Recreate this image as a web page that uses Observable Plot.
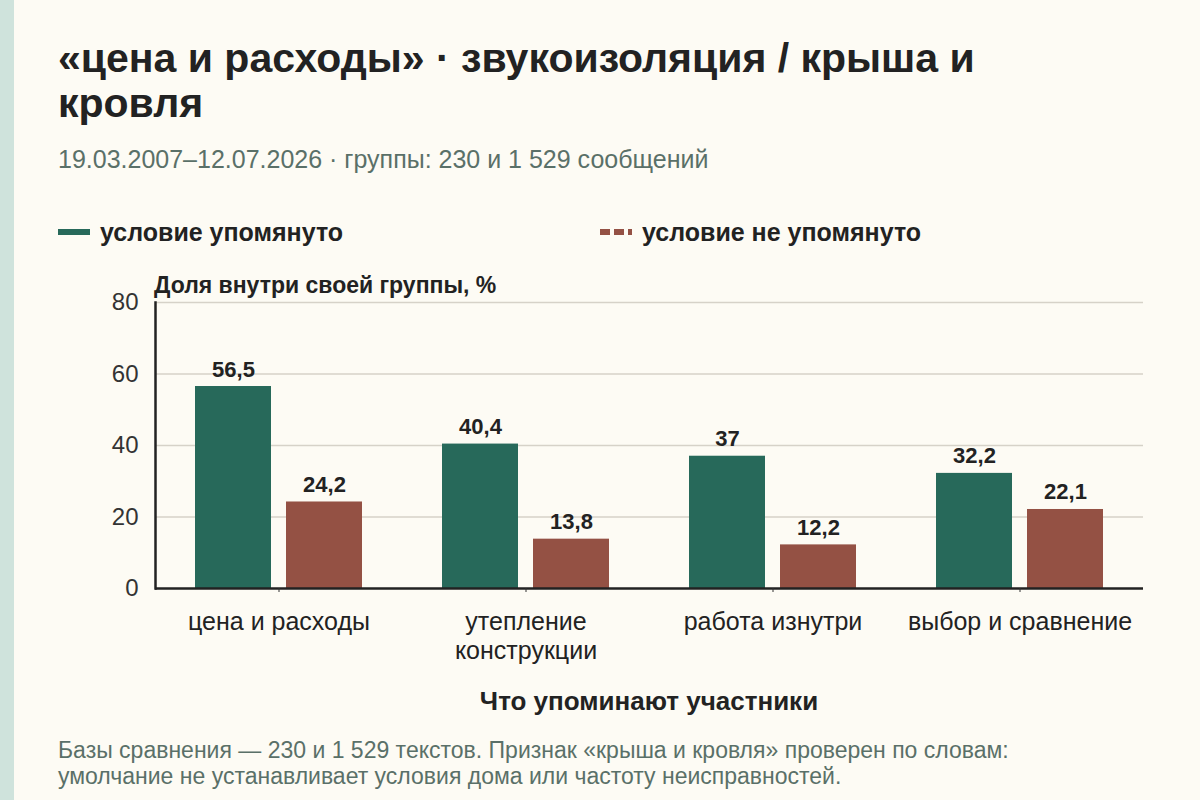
<!DOCTYPE html>
<html lang="ru">
<head>
<meta charset="utf-8">
<script src="https://cdn.jsdelivr.net/npm/d3@7"></script>
<script src="https://cdn.jsdelivr.net/npm/@observablehq/plot@0.6"></script>
<style>
  html, body { margin: 0; padding: 0; }
  body {
    width: 1200px; height: 800px; position: relative; overflow: hidden;
    background: #fdfbf4; font-family: "Liberation Sans", Arial, sans-serif; color: #222;
  }
  .strip { position: absolute; left: 0; top: 0; width: 14px; height: 800px; background: #cfe3dc; }
  .abs { position: absolute; white-space: nowrap; }
  #title { left: 58px; top: 36px; width: 1000px; white-space: normal; font-size: 41px; line-height: 45px; font-weight: bold; color: #222; }
  #subtitle { left: 58px; top: 144px; font-size: 25px; line-height: 30px; color: #5a7068; }
  .leg { top: 217px; display: flex; align-items: center; font-size: 25px; line-height: 30px; font-weight: bold; color: #222; }
  .leg svg { margin-right: 10px; }
  #ylabel { left: 154px; top: 272px; font-size: 23px; line-height: 26px; font-weight: bold; color: #222; }
  #chart { left: 0; top: 280px; }
  #xtitle { left: 154px; width: 990px; top: 686px; text-align: center; font-size: 26px; line-height: 30px; font-weight: bold; color: #222; }
  #footer { left: 58px; top: 738px; font-size: 23px; line-height: 25.5px; color: #5a7068; }
</style>
</head>
<body>
<div class="strip"></div>
<div id="title" class="abs"></div>
<div id="subtitle" class="abs"></div>
<div id="leg1" class="abs leg" style="left:58px"></div>
<div id="leg2" class="abs leg" style="left:600px"></div>
<div id="ylabel" class="abs"></div>
<div id="chart" class="abs"></div>
<div id="xtitle" class="abs"></div>
<div id="footer" class="abs"></div>
<script>
// ---- data ----
const categories = ["цена и расходы", "утепление\nконструкции", "работа изнутри", "выбор и сравнение"];
const seriesNames = ["условие упомянуто", "условие не упомянуто"];
const mentioned = [56.5, 40.4, 37, 32.2];
const notMentioned = [24.2, 13.8, 12.2, 22.1];
const yTicks = [0, 20, 40, 60, 80];
const colors = ["#27695a", "#945144"];

const titleText = "«цена и расходы» · звукоизоляция / крыша и кровля";
const subtitleText = "19.03.2007–12.07.2026 · группы: 230 и 1 529 сообщений";
const yLabelText = "Доля внутри своей группы, %";
const xLabelText = "Что упоминают участники";
const footerLines = [
  "Базы сравнения — 230 и 1 529 текстов. Признак «крыша и кровля» проверен по словам:",
  "умолчание не устанавливает условия дома или частоту неисправностей."
];

const rows = [];
categories.forEach((c, i) => {
  rows.push({cat: c, series: seriesNames[0], value: mentioned[i]});
  rows.push({cat: c, series: seriesNames[1], value: notMentioned[i]});
});

document.getElementById("title").textContent = titleText;
document.getElementById("subtitle").textContent = subtitleText;
document.getElementById("ylabel").textContent = yLabelText;
document.getElementById("xtitle").textContent = xLabelText;
document.getElementById("footer").innerHTML = footerLines.map(l => `<div>${l}</div>`).join("");

const ns = "http://www.w3.org/2000/svg";
function legendItem(el, name, color, dashed) {
  const s = document.createElementNS(ns, "svg");
  s.setAttribute("width", 32); s.setAttribute("height", 10);
  const ln = document.createElementNS(ns, "line");
  ln.setAttribute("x1", 0); ln.setAttribute("x2", 32);
  ln.setAttribute("y1", 5); ln.setAttribute("y2", 5);
  ln.setAttribute("stroke", color); ln.setAttribute("stroke-width", 6);
  if (dashed) ln.setAttribute("stroke-dasharray", "10 4");
  s.appendChild(ln);
  el.appendChild(s);
  const t = document.createElement("span");
  t.textContent = name;
  el.appendChild(t);
}
legendItem(document.getElementById("leg1"), seriesNames[0], colors[0], false);
legendItem(document.getElementById("leg2"), seriesNames[1], colors[1], true);

const fmt = v => String(v).replace(".", ",");

const chart = Plot.plot({
  width: 1200,
  height: 388,
  marginLeft: 154,
  marginRight: 56,
  marginTop: 22,
  marginBottom: 80,
  style: { background: "transparent", fontFamily: "'Liberation Sans', Arial, sans-serif", color: "#333" },
  fx: { domain: categories, padding: 0, label: null },
  x: { domain: seriesNames, paddingInner: 0.163, paddingOuter: 0.4266, axis: null },
  y: { domain: [0, 80], label: null },
  color: { domain: seriesNames, range: colors },
  marks: [
    Plot.gridY(yTicks.slice(1), { stroke: "#d6d2c8", strokeOpacity: 1, strokeWidth: 1.5 }),
    Plot.barY(rows, { fx: "cat", x: "series", y: "value", fill: "series" }),
    Plot.text(rows, { fx: "cat", x: "series", y: "value", text: d => fmt(d.value), lineAnchor: "bottom", dy: -10, fontSize: 22, fontWeight: "bold", fill: "#222" }),
    Plot.ruleY([0], { stroke: "#222", strokeWidth: 2.5 }),
    Plot.frame({ anchor: "left", facet: "super", stroke: "#222", strokeWidth: 2.5 }),
    Plot.axisY({ ticks: yTicks, tickSize: 0, tickPadding: 17, fontSize: 24, fill: "#333", label: null }),
    Plot.axisFx({ anchor: "bottom", tickSize: 4, tickPadding: 17, fontSize: 25, fill: "#222", lineHeight: 1.16, label: null, tickFormat: d => d })
  ]
});
document.getElementById("chart").appendChild(chart);
</script>
</body>
</html>
